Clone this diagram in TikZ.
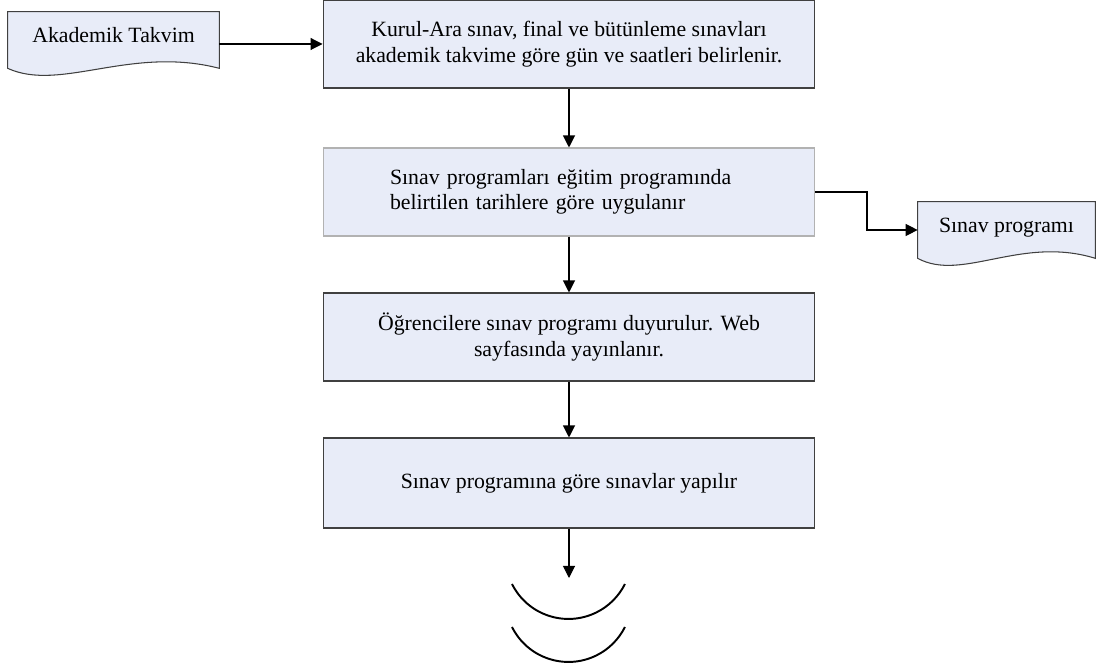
\documentclass[tikz,border=0pt]{standalone}
\usepackage{fontspec}
\setmainfont{Liberation Serif}
\usetikzlibrary{arrows.meta}

\definecolor{boxblue}{RGB}{232,236,248}
\definecolor{edgegray}{RGB}{64,64,64}

\tikzset{
  txt/.style={font=\fontsize{12.4}{14.5}\selectfont},
  procbox/.style={txt, draw=edgegray, line width=0.6pt, fill=boxblue,
    minimum width=9.84cm, minimum height=1.76cm, align=center},
  docbox/.style={txt, minimum width=#1, minimum height=1.12cm, text depth=0.2cm},
  docline/.style={draw=edgegray, fill=boxblue, line width=0.6pt},
  flow/.style={line width=0.6pt, -{Triangle[length=0.24cm,width=0.24cm]}},
  arcline/.style={line width=1.1pt}
}

\begin{document}
\begin{tikzpicture}[x=0.02cm, y=-0.02cm]

\useasboundingbox (0,0) rectangle (1103,671);

\node[procbox] (kurul) at (569,44)
  {Kurul-Ara sınav, final ve bütünleme sınavları\\akademik takvime göre gün ve saatleri belirlenir.};
\node[procbox, draw=gray!60, align=left, text width=7.16cm, inner xsep=1.34cm] (uygula) at (569,192)
  {Sınav programları eğitim programında\\belirtilen tarihlere göre uygulanır};
\node[procbox] (duyuru) at (569,337)
  {Öğrencilere sınav programı duyurulur. Web\\sayfasında yayınlanır.};
\node[procbox, minimum height=1.8cm] (yapilir) at (569,483)
  {Sınav programına göre sınavlar yapılır};

\node[docbox=4.22cm] (takvim) at (113.5,40) {};
\node[docbox=3.54cm] (sinavprog) at (1006.5,230) {};

% document shapes
\filldraw[docline] (takvim.north west) -- (takvim.north east) -- (takvim.south east)
  .. controls +(-88.6,-23) and +(52.75,24) .. (takvim.south west) -- cycle;
\filldraw[docline] (sinavprog.north west) -- (sinavprog.north east) -- (sinavprog.south east)
  .. controls +(-74.3,-23) and +(44.3,24) .. (sinavprog.south west) -- cycle;
\node[docbox=4.22cm] at (takvim) {Akademik Takvim};
\node[docbox=3.54cm] at (sinavprog) {Sınav programı};

\coordinate (knee) at (867,192);
\coordinate (son) at (569,578);

\draw[flow] (kurul.west -| takvim.east) -- (kurul.west);
\draw[flow] (kurul) -- (uygula);
\draw[flow] (uygula.east) -- (knee) |- (sinavprog.west);
\draw[flow] (uygula) -- (duyuru);
\draw[flow] (duyuru) -- (yapilir);
\draw[flow] (yapilir) -- (son);

\foreach \y in {584,627}
    \draw[arcline] (512,\y) arc[start angle=153.5, end angle=26.5, radius=63.1];

\end{tikzpicture}
\end{document}
